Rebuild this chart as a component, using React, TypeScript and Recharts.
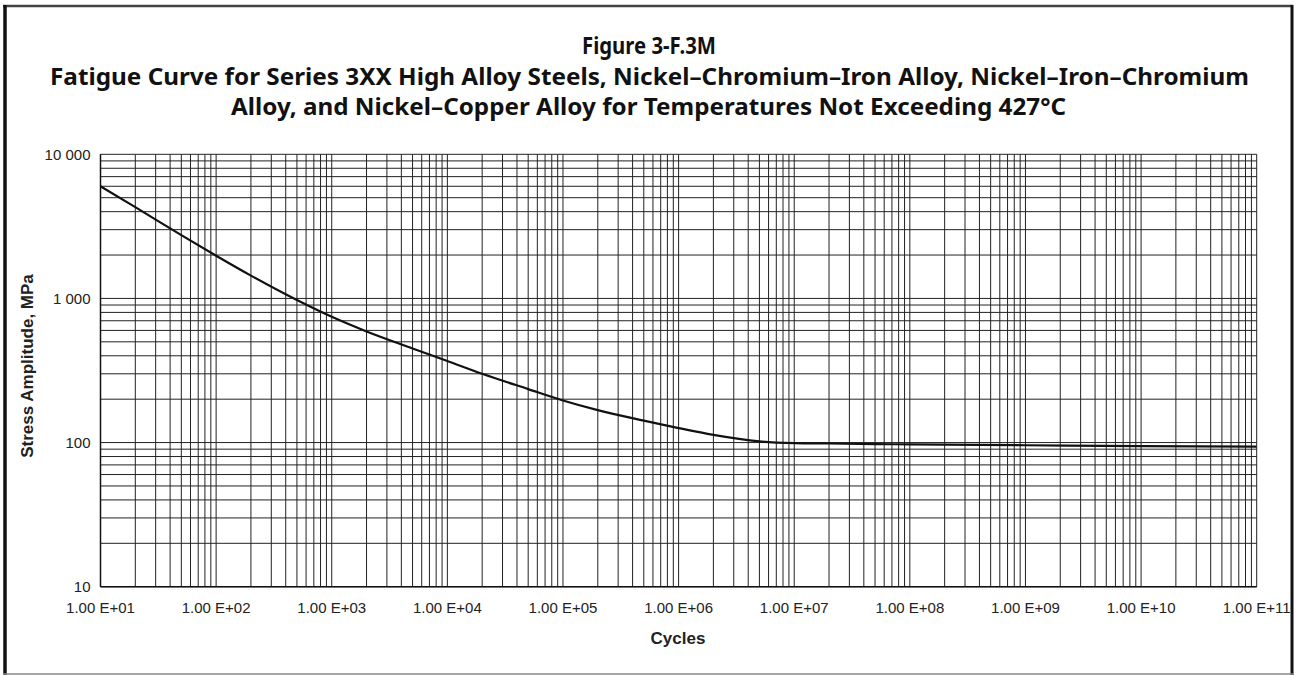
import React from 'react';
import { LineChart, Line, XAxis, YAxis, CartesianGrid } from 'recharts';

// Fatigue curve points (cycles, stress amplitude in MPa)
const cycles = [1e1, 2e1, 5e1, 1e2, 2e2, 5e2, 1e3, 2e3, 5e3, 1e4, 2e4, 5e4, 1e5, 2e5, 5e5, 1e6, 2e6, 5e6, 1e7, 2e7, 5e7, 1e8, 1e9, 1e10, 1e11];
const stress = [6000, 4300, 2748, 1978, 1440, 974, 745, 590, 450, 368, 300, 235, 196, 168, 142, 126, 113, 102, 99.2, 98.5, 97.6, 97.1, 95.8, 94.4, 93.7];

// grid / tick values
const xDecades = [1, 2, 3, 4, 5, 6, 7, 8, 9, 10, 11];
const yDecades = [1, 2, 3, 4];
const steps = [1, 2, 3, 4, 5, 6, 7, 8, 9];
const yLabels: Record<number, string> = { 10: '10', 100: '100', 1000: '1 000', 10000: '10 000' };

const xTicks: number[] = [];
xDecades.forEach((d) => {
  if (d === 11) { xTicks.push(1e11); return; }
  steps.forEach((s) => xTicks.push(s * Math.pow(10, d)));
});
const yTicks: number[] = [];
yDecades.forEach((d) => {
  if (d === 4) { yTicks.push(1e4); return; }
  steps.forEach((s) => yTicks.push(s * Math.pow(10, d)));
});

const data = cycles.map((c, i) => ({ n: c, s: stress[i] }));

const fmtX = (v: number) => {
  const e = Math.round(Math.log10(v));
  if (Math.abs(v - Math.pow(10, e)) > 1e-6 * v) return '';
  return `1.00 E+${String(e).padStart(2, '0')}`;
};
const fmtY = (v: number) => yLabels[Math.round(v)] ?? '';

const W = 1299;
const H = 675;
const LEFT = 100.5;
const RIGHT = 1256.7;
const TOP = 154.3;
const BOTTOM = 586.7;

const tickFont = { fontFamily: 'Liberation Sans, Arial, sans-serif', fontSize: 15, fill: '#222' };
const titleFont = { fontFamily: 'Noto Sans, sans-serif', fontWeight: 700, fontSize: 24, fill: '#111' };
const labelFont = { fontFamily: 'Liberation Sans, Arial, sans-serif', fontWeight: 700, fontSize: 17, fill: '#222' };

export default function App() {
  return (
    <div style={{ position: 'absolute', left: 0, top: 0, width: W, height: H, background: '#fff' }}>
      <LineChart
        width={W}
        height={H}
        data={data}
        margin={{ left: 0.5, right: W - RIGHT, top: TOP, bottom: 0.3 }}
      >
        <CartesianGrid stroke="#222" strokeWidth={1} />
        <XAxis
          dataKey="n"
          type="number"
          scale="log"
          domain={[10, 1e11]}
          allowDataOverflow
          ticks={xTicks}
          interval={0}
          tickFormatter={fmtX}
          tickLine={false}
          tickSize={0}
          tickMargin={16}
          height={H - BOTTOM - 0.3}
          axisLine={{ stroke: '#111', strokeWidth: 1.5 }}
          tick={tickFont}
        />
        <YAxis
          dataKey="s"
          type="number"
          scale="log"
          domain={[10, 10000]}
          allowDataOverflow
          ticks={yTicks}
          interval={0}
          tickFormatter={fmtY}
          tickLine={false}
          tickSize={0}
          tickMargin={10}
          width={LEFT - 0.5}
          axisLine={{ stroke: '#111', strokeWidth: 1.5 }}
          tick={tickFont}
        />
        <Line
          type="monotone"
          dataKey="s"
          stroke="#111"
          strokeWidth={2.2}
          dot={false}
          isAnimationActive={false}
        />
      </LineChart>
      <svg width={W} height={H} style={{ position: 'absolute', left: 0, top: 0, pointerEvents: 'none' }}>
        {/* frame */}
        <line x1={3} y1={6} x2={1293} y2={6} stroke="#444" strokeWidth={2.5} />
        <line x1={5} y1={5} x2={5} y2={675} stroke="#111" strokeWidth={3.5} />
        <line x1={1292} y1={5} x2={1292} y2={675} stroke="#111" strokeWidth={3} />
        <line x1={3} y1={674} x2={1293} y2={674} stroke="#888" strokeWidth={1.5} />
        {/* title */}
        <text x={649} y={54} textAnchor="middle" textLength={134} lengthAdjust="spacingAndGlyphs" {...titleFont}>
          Figure 3-F.3M
        </text>
        <text x={50} y={84.5} textLength={1199} lengthAdjust="spacingAndGlyphs" {...titleFont}>
          Fatigue Curve for Series 3XX High Alloy Steels, Nickel–Chromium–Iron Alloy, Nickel–Iron–Chromium
        </text>
        <text x={231} y={115} textLength={835} lengthAdjust="spacingAndGlyphs" {...titleFont}>
          Alloy, and Nickel–Copper Alloy for Temperatures Not Exceeding 427°C
        </text>
        {/* axis titles */}
        <text x={678} y={644} textAnchor="middle" {...labelFont}>
          Cycles
        </text>
        <text
          x={0}
          y={0}
          textAnchor="middle"
          transform="translate(33 366) rotate(-90)"
          {...labelFont}
        >
          Stress Amplitude, MPa
        </text>
      </svg>
    </div>
  );
}
